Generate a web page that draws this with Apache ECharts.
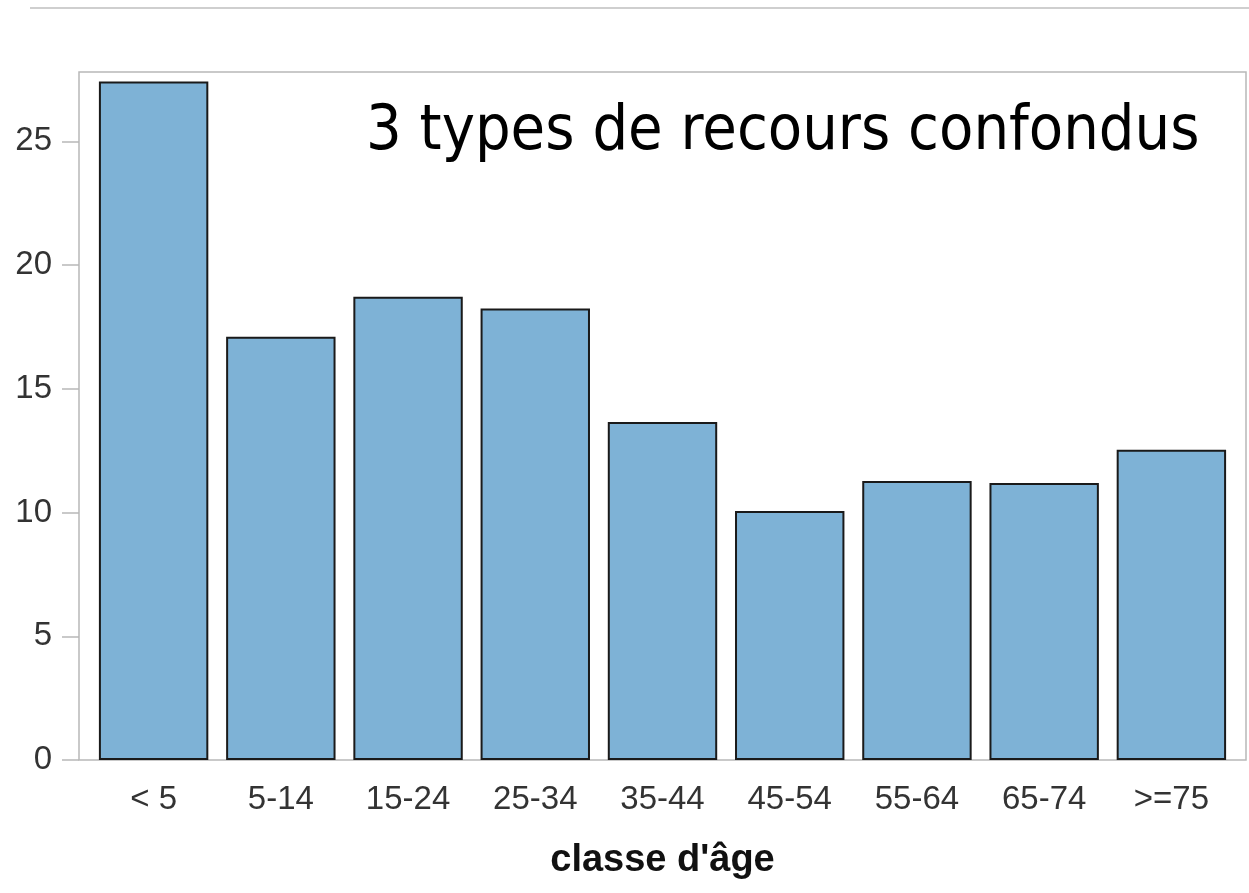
<!DOCTYPE html>
<html>
<head>
    <meta charset="utf-8">
    <title>classe d'âge</title>
    <script src="https://cdn.jsdelivr.net/npm/echarts@6/dist/echarts.min.js"></script>
    <style>
        html, body { margin: 0; padding: 0; background: #fff; }
        #chart1 { width: 1249px; height: 893px; }
    </style>
</head>
<body>
<div id="chart1"></div>
<script type="text/javascript">
    // données
    var ageClasses = ['< 5', '5-14', '15-24', '25-34', '35-44', '45-54', '55-64', '65-74', '>=75'];
    var values = [27.42, 17.10, 18.72, 18.24, 13.66, 10.06, 11.27, 11.19, 12.54];
    var yMax = 27.8;
    var yStep = 5;

    var myChart1 = echarts.init(document.getElementById('chart1'));

    myChart1.setOption({
        animation: false,
        title: {
            text: '3 types de recours confondus',
            left: 361,
            top: 96,
            textStyle: {
                fontFamily: 'DejaVu Sans Condensed',
                fontWeight: 'normal',
                fontSize: 62.5,
                color: '#000'
            }
        },
        graphic: [{
            // fine ligne grise en haut de page
            type: 'line',
            shape: { x1: 30, y1: 8, x2: 1249, y2: 8 },
            style: { stroke: '#cfcfcf', lineWidth: 2 }
        }],
        grid: [
            // cadre
            { left: 79, right: 3, top: 72, bottom: 133, show: true, borderColor: '#b8b8b8', borderWidth: 1.5 },
            // zone des barres
            { left: 90, right: 14, top: 72, bottom: 133 }
        ],
        xAxis: [
            { gridIndex: 0, type: 'value', show: false },
            {
                gridIndex: 1,
                type: 'category',
                data: ageClasses,
                name: "classe d'âge",
                nameLocation: 'middle',
                nameGap: 82,
                nameTextStyle: {
                    fontFamily: 'Liberation Sans',
                    fontWeight: 'bold',
                    fontSize: 38,
                    color: '#111'
                },
                axisLine: { show: false },
                axisTick: { alignWithLabel: true, length: 15, lineStyle: { color: '#b8b8b8', width: 1.5 } },
                axisLabel: { margin: 23, fontFamily: 'Liberation Sans', fontSize: 33, color: '#333' }
            }
        ],
        yAxis: [
            { gridIndex: 0, type: 'value', show: false },
            {
                gridIndex: 1,
                type: 'value',
                min: 0,
                max: yMax,
                interval: yStep,
                offset: 11,
                axisLine: { show: false },
                axisTick: { show: true, length: 17, lineStyle: { color: '#b8b8b8', width: 1.5 } },
                axisLabel: { margin: 27, showMaxLabel: false, fontFamily: 'Liberation Sans', fontSize: 33, color: '#333' },
                splitLine: { show: false }
            }
        ],
        series: [{
            type: 'bar',
            xAxisIndex: 1,
            yAxisIndex: 1,
            data: values,
            barCategoryGap: '14%',
            itemStyle: {
                color: '#7eb2d6',
                borderColor: '#1a1a1a',
                borderWidth: 2
            }
        }]
    });
</script>
</body>
</html>
